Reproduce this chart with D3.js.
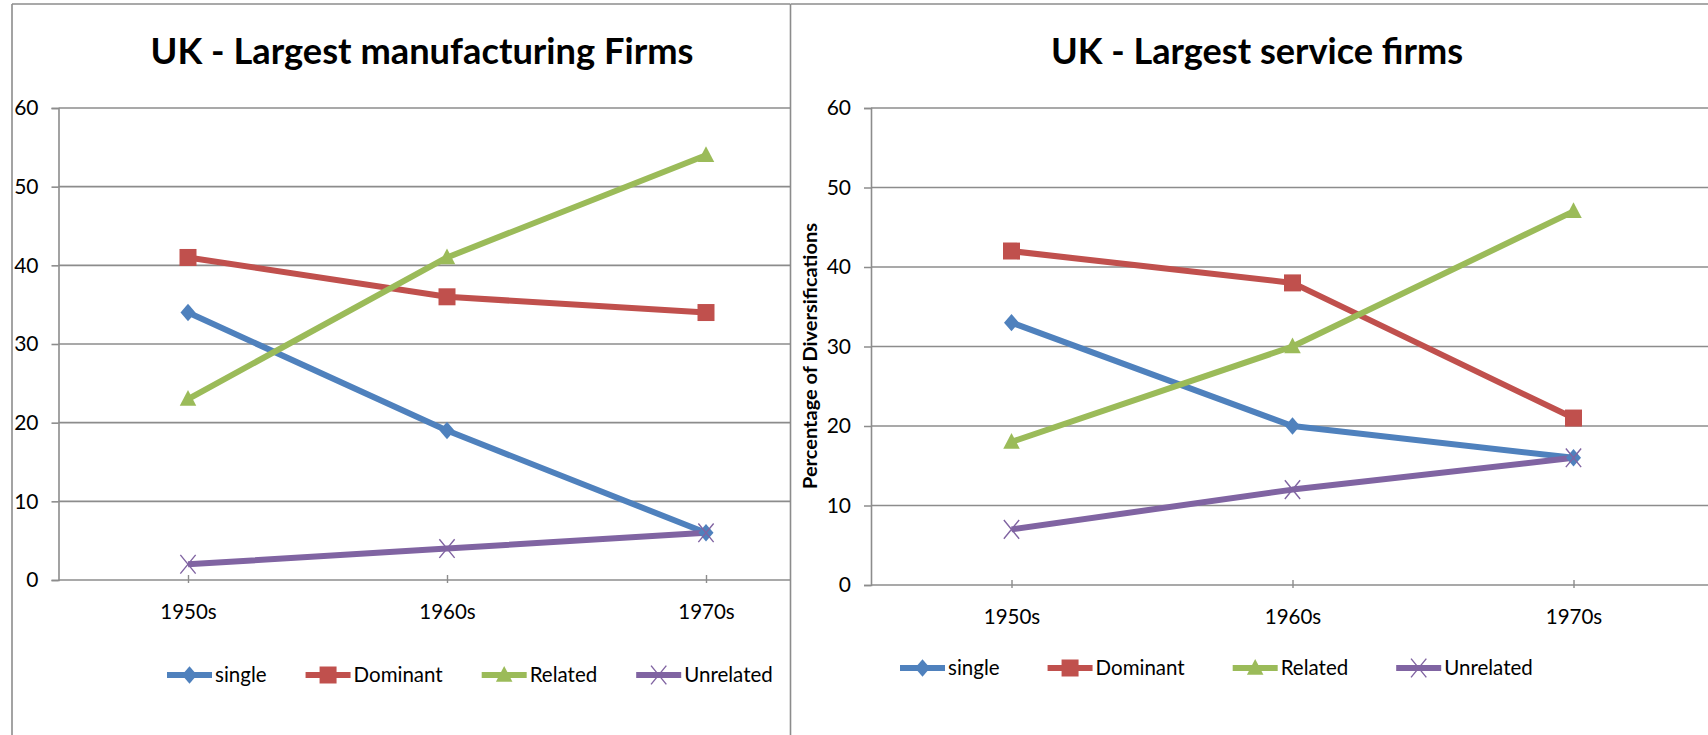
<!DOCTYPE html>
<html>
<head>
<meta charset="utf-8">
<script src="https://cdn.jsdelivr.net/npm/d3@7/dist/d3.min.js"></script>
<style>
  html, body { margin: 0; padding: 0; background: #fff; }
  svg { display: block; }
  text { font-family: Lato, "Open Sans", sans-serif; fill: #000; }
</style>
</head>
<body>
<svg id="chart" width="1708" height="735"></svg>
<script>
// Decades on the category axis
const periods = ["1950s", "1960s", "1970s"];
const seriesNames = ["single", "Dominant", "Related", "Unrelated"];
const yTicks = [0, 10, 20, 30, 40, 50, 60];

// Largest manufacturing firms (percent)
const mfgSingle    = [34, 19, 6];
const mfgDominant  = [41, 36, 34];
const mfgRelated   = [23, 41, 54];
const mfgUnrelated = [2, 4, 6];

// Largest service firms (percent)
const svcSingle    = [33, 20, 16];
const svcDominant  = [42, 38, 21];
const svcRelated   = [18, 30, 47];
const svcUnrelated = [7, 12, 16];

const colors = ["#4F81BD", "#C0504D", "#9BBB59", "#8064A2"];
const markers = ["diamond", "square", "triangle", "times"];
const gridColor = "#8c8c8c";

const svg = d3.select("#chart");

function markerPath(kind, s) {
  if (kind === "diamond") {
    return `M0,${-s * 0.58}L${s * 0.5},0L0,${s * 0.58}L${-s * 0.5},0Z`;
  }
  if (kind === "square") {
    return d3.symbol(d3.symbolSquare, s * s)();
  }
  if (kind === "triangle") {
    return `M0,${-s * 0.6}L${s * 0.55},${s * 0.45}L${-s * 0.55},${s * 0.45}Z`;
  }
  return `M${-s * 0.45},${-s * 0.55}L${s * 0.45},${s * 0.55}M${s * 0.45},${-s * 0.55}L${-s * 0.45},${s * 0.55}`;
}

function drawMarker(g, kind, color, x, y) {
  const sizes = { diamond: 15, square: 17, triangle: 15, times: 17 };
  const p = g.append("path")
    .attr("d", markerPath(kind, sizes[kind]))
    .attr("transform", `translate(${x},${y})`);
  if (kind === "times") {
    p.attr("fill", "none").attr("stroke", color).attr("stroke-width", 1.4);
  } else {
    p.attr("fill", color).attr("stroke", "none");
  }
}

function drawPanel(cfg) {
  const g = svg.append("g");

  // panel background covering anything beneath it
  g.append("rect")
    .attr("x", cfg.left).attr("y", cfg.top)
    .attr("width", cfg.right - cfg.left).attr("height", 735 - cfg.top)
    .attr("fill", "#fff");

  const clipId = "clip-" + cfg.id;
  g.append("clipPath").attr("id", clipId)
    .append("rect")
    .attr("x", cfg.left).attr("y", 0)
    .attr("width", cfg.right - cfg.left).attr("height", 735);

  const body = g.append("g").attr("clip-path", `url(#${clipId})`);

  const x = d3.scalePoint().domain(periods).range([cfg.plotX0, cfg.plotX1]).padding(0.5);
  const y = d3.scaleLinear().domain([0, 60]).range([cfg.plotBottom, cfg.plotTop]);

  // horizontal gridlines
  body.append("g").selectAll("line")
    .data(yTicks.filter(t => t > 0))
    .join("line")
    .attr("x1", cfg.plotX0).attr("x2", cfg.plotX1)
    .attr("y1", d => y(d)).attr("y2", d => y(d))
    .attr("stroke", gridColor).attr("stroke-width", 1.6);

  // y axis
  const yAxis = body.append("g")
    .attr("transform", `translate(${cfg.plotX0},0)`)
    .call(d3.axisLeft(y).tickValues(yTicks).tickSize(7).tickPadding(13));
  yAxis.select(".domain").attr("stroke", gridColor).attr("stroke-width", 1.6);
  yAxis.selectAll(".tick line").attr("stroke", gridColor).attr("stroke-width", 1.6);
  yAxis.selectAll(".tick text")
    .attr("font-family", "Lato, sans-serif").attr("font-size", 21).attr("fill", "#000");

  // x axis
  const xAxis = body.append("g")
    .attr("transform", `translate(0,${cfg.plotBottom})`)
    .call(d3.axisBottom(x).tickSize(0).tickPadding(0).tickSizeOuter(0));
  xAxis.select(".domain").remove();
  xAxis.append("line")
    .attr("x1", cfg.plotX0).attr("x2", cfg.plotX1)
    .attr("stroke", gridColor).attr("stroke-width", 1.6);
  xAxis.selectAll(".tick").append("line")
    .attr("y1", -5).attr("y2", 3)
    .attr("stroke", gridColor).attr("stroke-width", 1.4);
  xAxis.selectAll(".tick text")
    .attr("font-family", "Lato, sans-serif").attr("font-size", 20.5).attr("fill", "#000")
    .attr("dy", null).attr("y", 39);

  // series lines and markers
  const line = d3.line().x((d, i) => x(periods[i])).y(d => y(d));
  cfg.series.forEach((vals, si) => {
    body.append("path")
      .datum(vals)
      .attr("d", line)
      .attr("fill", "none")
      .attr("stroke", colors[si])
      .attr("stroke-width", 6)
      .attr("stroke-linejoin", "round");
  });
  cfg.series.forEach((vals, si) => {
    vals.forEach((v, i) => drawMarker(body, markers[si], colors[si], x(periods[i]), y(v)));
  });

  // title
  g.append("text")
    .attr("x", cfg.titleX).attr("y", 64)
    .attr("text-anchor", "middle")
    .attr("font-family", "Lato, sans-serif")
    .attr("font-weight", 700)
    .attr("font-size", 37)
    .attr("textLength", cfg.titleWidth)
    .attr("lengthAdjust", "spacingAndGlyphs")
    .text(cfg.title);

  // y axis title
  if (cfg.yTitle) {
    g.append("text")
      .attr("transform", `translate(${cfg.yTitleX},${cfg.yTitleY}) rotate(-90)`)
      .attr("text-anchor", "middle")
      .attr("font-family", "DejaVu Sans, sans-serif")
      .attr("font-weight", 700)
      .attr("font-size", 18)
      .attr("textLength", 266)
      .attr("lengthAdjust", "spacingAndGlyphs")
      .text(cfg.yTitle);
  }

  // legend
  const leg = body.append("g").attr("transform", `translate(0,${cfg.legendY})`);
  let lx = cfg.legendX;
  seriesNames.forEach((name, si) => {
    const item = leg.append("g");
    item.append("line")
      .attr("x1", lx).attr("x2", lx + 45)
      .attr("stroke", colors[si]).attr("stroke-width", 6);
    drawMarker(item, markers[si], colors[si], lx + 22.5, 0);
    const t = item.append("text")
      .attr("x", lx + 48).attr("y", 0)
      .attr("dy", "0.35em")
      .attr("font-family", "Lato, sans-serif")
      .attr("font-size", 20.5)
      .text(name);
    lx += 48 + t.node().getComputedTextLength() + cfg.legendGap;
  });

  // panel frame
  g.append("line").attr("x1", cfg.left).attr("x2", cfg.left)
    .attr("y1", cfg.top).attr("y2", 735)
    .attr("stroke", gridColor).attr("stroke-width", 1.6);
  g.append("line").attr("x1", cfg.left).attr("x2", cfg.right)
    .attr("y1", cfg.top).attr("y2", cfg.top)
    .attr("stroke", gridColor).attr("stroke-width", 1.6);
}

drawPanel({
  id: "mfg",
  left: 12, right: 790, top: 4,
  plotX0: 58.5, plotX1: 835.5, plotTop: 108, plotBottom: 580,
  title: "UK - Largest manufacturing Firms", titleX: 422, titleWidth: 543,
  series: [mfgSingle, mfgDominant, mfgRelated, mfgUnrelated],
  legendX: 167, legendY: 675, legendGap: 39
});

drawPanel({
  id: "svc",
  left: 790.5, right: 1708, top: 4,
  plotX0: 871, plotX1: 1714, plotTop: 108, plotBottom: 585,
  title: "UK - Largest service firms", titleX: 1257, titleWidth: 412,
  yTitle: "Percentage of Diversifications", yTitleX: 817, yTitleY: 356,
  series: [svcSingle, svcDominant, svcRelated, svcUnrelated],
  legendX: 900, legendY: 668, legendGap: 48
});
</script>
</body>
</html>
